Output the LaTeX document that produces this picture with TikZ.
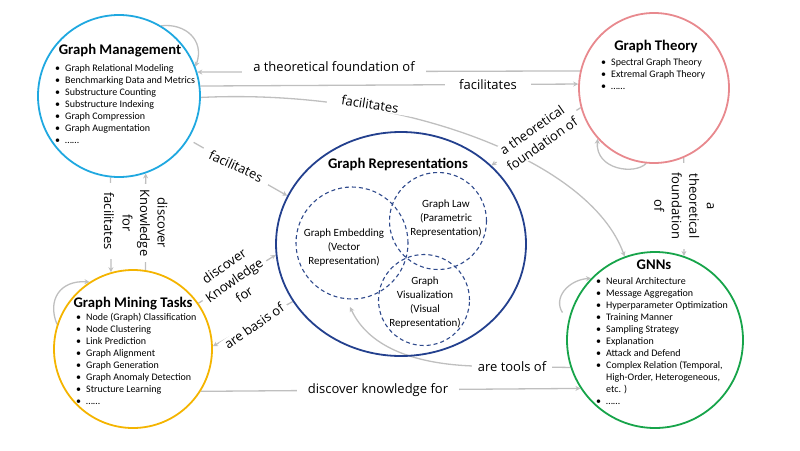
\documentclass[tikz,border=0pt]{standalone}
\usepackage{fontspec}
\setmainfont{Carlito}
\newfontfamily\lblfont{Open Sans}
\usetikzlibrary{arrows.meta,shapes.geometric}
\pgfdeclarelayer{bg}
\pgfsetlayers{bg,main}
\definecolor{gmblue}{HTML}{1FA8E0}
\definecolor{gtpink}{HTML}{E8898E}
\definecolor{gmtyellow}{HTML}{F4B400}
\definecolor{gnngreen}{HTML}{17A44A}
\definecolor{grblue}{HTML}{23408E}
\definecolor{subblue}{HTML}{2F4A8C}
\definecolor{linkgray}{HTML}{BFBFBF}
\newcommand\blt[1]{\makebox[10pt][l]{\textbullet}#1}
\newcommand\fl{\rule{0pt}{8pt}}
\newcommand\fli{\rule{0pt}{9pt}}
\tikzset{
  ring/.style={circle, draw, line width=1.8pt, inner sep=0pt},
  subring/.style={circle, draw=subblue, line width=1.1pt, inner sep=0pt, dash pattern=on 4pt off 3pt},
  link/.style={draw=linkgray, line width=1.3pt},
  arr/.style={link, -{Stealth[length=5pt,width=5pt]}},
  elabel/.style={font=\lblfont\fontsize{13}{17.5}\selectfont, fill=white, align=center, inner ysep=1pt},
  ttl/.style={font=\bfseries\fontsize{14.7}{17}\selectfont, inner sep=0pt, anchor=base},
  lst/.style={font=\fontsize{10}{12}\selectfont, align=left, inner sep=0pt, anchor=north west},
  subtext/.style={font=\fontsize{11}{14}\selectfont, align=center, inner sep=0pt, anchor=north}
}
\begin{document}
\begin{tikzpicture}[x=1pt,y=-1pt]
\useasboundingbox (0,0) rectangle (800,450);

% topic rings
\node[ring, draw=gmblue, minimum size=162pt] (gm) at (119,96) {};
\node[ring, draw=gtpink, minimum size=150pt] (gt) at (654,88) {};
\node[ring, draw=gmtyellow, minimum size=158pt] (gmt) at (133,349) {};
\node[ring, draw=gnngreen, minimum size=176pt] (gnn) at (655,340) {};
\node[ellipse, draw=grblue, line width=1.8pt, inner sep=0pt, minimum width=250pt, minimum height=224pt] (gr) at (401,244) {};

% overlapping kinds of representation
\node[subring, minimum size=112pt] (emb) at (352,243) {};
\node[subring, minimum size=97pt] (law) at (438,221) {};
\node[subring, minimum size=91pt] (vis) at (424,300) {};
\coordinate (toolsend) at (350,307);

% titles
\node[ttl] (gmtitle) at (120,54) {Graph Management};
\node[ttl] (gttitle) at (656,50) {Graph Theory};
\node[ttl] (gmttitle) at (133,307) {Graph Mining Tasks};
\node[ttl] (gnntitle) at (654,269) {GNNs};
\node[ttl] (grtitle) at (398,168) {Graph Representations};

% topic lists
\node[lst] (gmlist) at (55,63) {\fl\blt{Graph Relational Modeling}\\ \blt{Benchmarking Data and Metrics}\\ \blt{Substructure Counting}\\ \blt{Substructure Indexing}\\ \blt{Graph Compression}\\ \blt{Graph Augmentation}\\ \blt{……}};
\node[lst] (gtlist) at (601,57) {\fl\blt{Spectral Graph Theory}\\ \blt{Extremal Graph Theory}\\ \blt{……}};
\node[lst] (gmtlist) at (76,312) {\fl\blt{Node (Graph) Classification}\\ \blt{Node Clustering}\\ \blt{Link Prediction}\\ \blt{Graph Alignment}\\ \blt{Graph Generation}\\ \blt{Graph Anomaly Detection}\\ \blt{Structure Learning}\\ \blt{……}};
\node[lst] (gnnlist) at (596,276) {\fl\blt{Neural Architecture}\\ \blt{Message Aggregation}\\ \blt{Hyperparameter Optimization}\\ \blt{Training Manner}\\ \blt{Sampling Strategy}\\ \blt{Explanation}\\ \blt{Attack and Defend}\\ \blt{Complex Relation (Temporal,}\\ \hspace*{10pt}High-Order, Heterogeneous,\\ \hspace*{10pt}etc. )\\ \blt{……}};

% representation captions
\node[subtext] (embtext) at (344,227) {\fli Graph Embedding\\(Vector\\Representation)};
\node[subtext] (lawtext) at (446,198) {\fli Graph Law\\(Parametric\\Representation)};
\node[subtext] (vistext) at (425,275) {\fli Graph\\Visualization\\(Visual\\Representation)};

\begin{pgfonlayer}{bg}
% relations between topics
\draw[arr] (gt.167.7) -- (gm.17.2);
\draw[arr] (gm.7.8) -- (gt.177.7);
\draw[arr] (gm.-1.4) .. controls (400,88) and (590,160) .. (gnn.110.6);
\draw[arr] (gt.195) -- (gr.41.5);
\draw[arr, shorten <=6pt] (gm.-32) -- (gr.157.4);
\draw[arr] (gm.-96.3) -- (gmt.106.4);
\draw[arr] (gmt.81.3) -- (gm.-71.3);
\draw[arr] (gmt.35) -- (gr.185.9);
\draw[arr] (gr.208) -- (gmt.2);
\draw[arr] (gmt.-32) -- (gnn.213.8);
\draw[arr] (gnn.198.6) -- (473,366) .. controls (420,364) and (370,350) .. (toolsend);
\draw[arr] (gt.-67.3) -- (gnn.71.45);
% self loops
\draw[arr] (gm.59.5) .. controls (185,23) and (205,40) .. (gm.21.7);
\draw[arr] (gt.264.6) .. controls (635,175) and (595,170) .. (gt.222.4);
\draw[arr] (gmt.162.5) .. controls (47,300) and (60,280) .. (gmt.123);
\draw[arr] ([xshift=-8pt]gnn.162) .. controls (553,298) and (568,280) .. (gnn.136.4);

% relation labels
\node[elabel, inner xsep=11pt] (l1) at (334,67) {a theoretical foundation of};
\node[elabel, inner xsep=14pt] (l2) at (488,85) {facilitates};
\node[elabel, inner xsep=14pt, rotate=-9] (l3) at (370,104) {facilitates};
\node[elabel, inner xsep=6pt, rotate=35] (l4) at (537,137) {a theoretical\\foundation of};
\node[elabel, inner xsep=8pt, rotate=-25] (l5) at (236,166) {facilitates};
\node[elabel, inner xsep=9pt, rotate=-90] (l6) at (109,221) {facilitates};
\node[elabel, inner xsep=6pt, rotate=-90] (l7) at (145,223) {discover\\Knowledge\\for};
\node[elabel, inner xsep=4pt, rotate=35] (l8) at (234,280) {discover\\Knowledge\\for};
\node[elabel, inner xsep=4pt, rotate=35] (l9) at (254,326) {are basis of};
\node[elabel, inner xsep=11pt] (l10) at (378,390) {discover knowledge for};
\node[elabel, inner xsep=6pt] (l11) at (512,367) {are tools of};
\node[elabel, inner xsep=9pt, rotate=-90] (l12) at (684,206) {a\\theoretical\\foundation\\of};
\end{pgfonlayer}
\end{tikzpicture}
\end{document}
